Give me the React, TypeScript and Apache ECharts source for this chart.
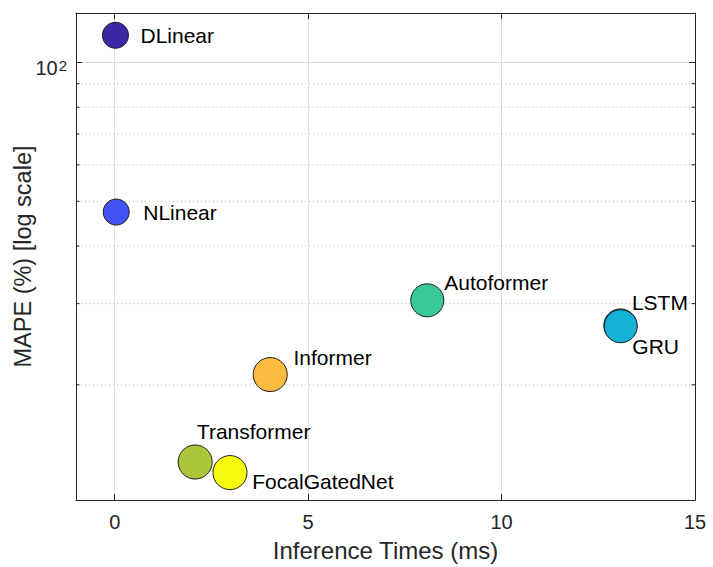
import React, { useEffect, useRef } from 'react';
import * as echarts from 'echarts';

// ---- data ----
const models = ['DLinear', 'NLinear', 'Autoformer', 'LSTM', 'GRU', 'Informer', 'Transformer', 'FocalGatedNet'];
const inferenceMs = [0.02, 0.04, 8.08, 13.07, 13.08, 4.02, 2.08, 2.98];
const mapePct = [114.6, 47.4, 30.5, 26.9, 26.8, 21.05, 13.6, 12.9];
const pointColors = ['#3e26a8', '#4352f3', '#37c895', '#13b1d6', '#13b1d6', '#fbbb3e', '#abc63a', '#f9fb0e'];
const markerSizes = [26, 26, 33, 33, 33, 34, 34, 34];
const labelOffsets = [
  [25, 0.5], [27, 0.3], [17, -17.5], [11.6, -22.7], [11.6, 20.7], [23.3, -17.5], [1.7, -30.4], [22.3, 9.2],
];
const xMin = -1;
const xMax = 15;
const yMin = 11.25;
const yMax = 128.1;
const minorYTicks = [20, 30, 40, 50, 60, 70, 80, 90];
const xTitle = 'Inference Times (ms)';
const yTitle = 'MAPE (%) [log scale]';

const AX = '#262626';
const FONT = '"Liberation Sans", Arial, Helvetica, sans-serif';

export default function App() {
  const ref = useRef<HTMLDivElement>(null);
  useEffect(() => {
    if (!ref.current) return;
    const chart = echarts.init(ref.current, undefined, { renderer: 'svg' });
    const seriesData = models.map((name, i) => ({
      name,
      value: [inferenceMs[i], mapePct[i]],
      symbolSize: markerSizes[i],
      itemStyle: { color: pointColors[i] },
      label: { offset: labelOffsets[i] },
    }));
    const option: any = {
      animation: false,
      textStyle: { fontFamily: FONT },
      grid: { left: 76, right: 18, top: 13, bottom: 67, show: false, containLabel: false, outerBoundsMode: 'none' },
      xAxis: [
        {
          type: 'value',
          min: xMin,
          max: xMax,
          splitNumber: 3,
          name: xTitle,
          nameLocation: 'middle',
          nameGap: 38,
          nameMoveOverlap: false,
          nameTextStyle: { fontSize: 24, color: AX, fontFamily: FONT },
          axisLine: { show: true, onZero: false, lineStyle: { color: AX, width: 1 } },
          axisTick: { show: true, inside: true, length: 6, lineStyle: { color: AX } },
          axisLabel: {
            fontSize: 20,
            color: AX,
            margin: 12,
            fontFamily: FONT,
            formatter: (v: number) => (Math.abs(v % 5) < 1e-9 ? String(Math.round(v)) : ''),
          },
          splitLine: { show: true, showMinLine: false, showMaxLine: false, lineStyle: { color: '#dfdfdf', width: 1 } },
        },
        {
          type: 'value',
          position: 'top',
          min: xMin,
          max: xMax,
          splitNumber: 3,
          axisLine: { show: true, onZero: false, lineStyle: { color: AX, width: 1 } },
          axisTick: { show: true, inside: true, length: 6, lineStyle: { color: AX } },
          axisLabel: { show: false },
          splitLine: { show: false },
        },
      ],
      yAxis: [
        {
          type: 'log',
          logBase: 10,
          min: yMin,
          max: yMax,
          name: yTitle,
          nameLocation: 'middle',
          nameGap: 41,
          nameMoveOverlap: false,
          nameTextStyle: { fontSize: 23.5, color: AX, fontFamily: FONT },
          axisLine: { show: true, onZero: false, lineStyle: { color: AX, width: 1 } },
          axisTick: { show: true, inside: true, length: 6, lineStyle: { color: AX } },
          axisLabel: {
            margin: 9,
            fontSize: 20,
            color: AX,
            fontFamily: FONT,
            padding: [10, 0, 0, 0],
            formatter: (v: number) => (Math.abs(v - 100) < 1e-6 ? '{b|10}{s|2}' : ''),
            rich: {
              b: { fontSize: 20, lineHeight: 20, color: AX, fontFamily: FONT, verticalAlign: 'bottom' },
              s: { fontSize: 15, lineHeight: 15, color: AX, fontFamily: FONT, verticalAlign: 'top', padding: [0, 0, 8, 1] },
            },
          },
          splitLine: { show: true, showMinLine: false, showMaxLine: false, lineStyle: { color: '#dfdfdf', width: 1 } },
        },
        {
          type: 'log',
          logBase: 10,
          position: 'right',
          min: yMin,
          max: yMax,
          axisLine: { show: true, onZero: false, lineStyle: { color: AX, width: 1 } },
          axisTick: { show: true, inside: true, length: 6, lineStyle: { color: AX } },
          axisLabel: { show: false },
          splitLine: { show: false },
        },
      ],
      series: [
        {
          type: 'custom',
          xAxisIndex: 0,
          yAxisIndex: 0,
          z: 1,
          silent: true,
          data: minorYTicks.map((v) => [xMin, v]),
          renderItem: (params: any, api: any) => {
            const cs = params.coordSys;
            const y = api.coord([api.value(0), api.value(1)])[1];
            const left = cs.x;
            const right = cs.x + cs.width;
            return {
              type: 'group',
              children: [
                {
                  type: 'line',
                  shape: { x1: left + 1, y1: y, x2: right - 1, y2: y },
                  style: { stroke: '#b8b8b8', lineWidth: 1, lineDash: [1, 3] },
                },
                { type: 'line', shape: { x1: left, y1: y, x2: left + 3.5, y2: y }, style: { stroke: AX, lineWidth: 1 } },
                { type: 'line', shape: { x1: right - 3.5, y1: y, x2: right, y2: y }, style: { stroke: AX, lineWidth: 1 } },
              ],
            };
          },
        },
        {
          type: 'scatter',
          xAxisIndex: 0,
          yAxisIndex: 0,
          z: 3,
          symbol: 'circle',
          itemStyle: { borderColor: '#1a1a1a', borderWidth: 1, opacity: 1 },
          emphasis: { disabled: true },
          label: {
            show: true,
            position: 'inside',
            align: 'left',
            verticalAlign: 'middle',
            formatter: '{b}',
            fontSize: 21,
            color: '#000',
            fontFamily: FONT,
          },
          data: seriesData,
        },
      ],
    };
    chart.setOption(option);
    return () => chart.dispose();
  }, []);
  return <div ref={ref} style={{ position: 'fixed', left: 0, top: 0, width: 713, height: 567, background: '#fff' }} />;
}
